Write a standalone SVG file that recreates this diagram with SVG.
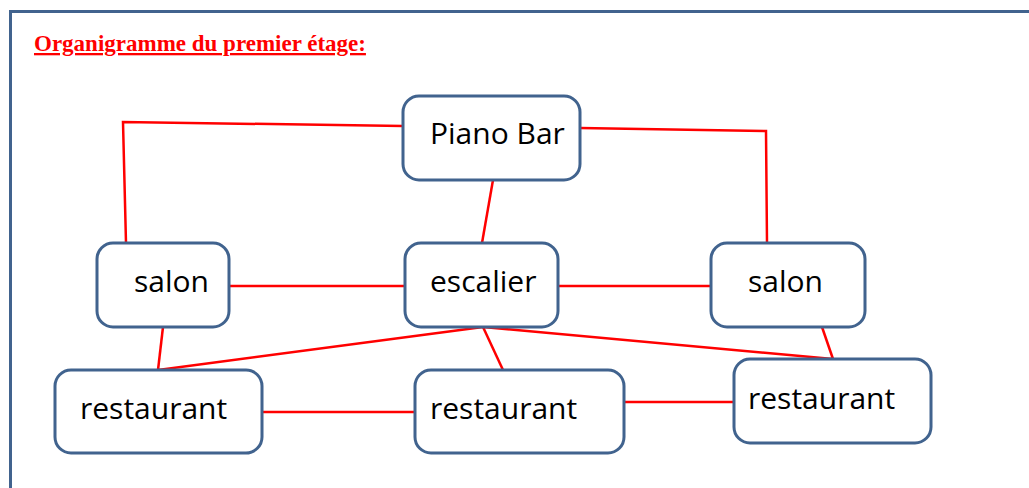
<svg xmlns="http://www.w3.org/2000/svg" width="1029" height="488" viewBox="0 0 1029 488">
<style>
.node rect{fill:#fff;stroke:#41638e;stroke-width:3}
.node text{font-family:"Open Sans","Liberation Sans",sans-serif;font-size:30px;fill:#000}
.conn{stroke:#ff0000;stroke-width:2.5;fill:none}
.title{font-family:"Liberation Serif",serif;font-weight:bold;font-size:23px;fill:#ff0000;text-decoration:underline}
</style>
<rect x="0" y="0" width="1029" height="488" fill="#fff"/>
<path d="M10.5 495 V11.5 H1040" fill="none" stroke="#41638e" stroke-width="3"/>
<text class="title" x="34" y="51">Organigramme du premier étage:</text>
<g id="connectors">
<polyline class="conn" points="403,126 123,122 126,243"/>
<polyline class="conn" points="580,128 766,131 767,243"/>
<line class="conn" x1="493" y1="180" x2="482" y2="243"/>
<line class="conn" x1="229" y1="286" x2="405" y2="286"/>
<line class="conn" x1="558" y1="286" x2="711" y2="286"/>
<line class="conn" x1="163" y1="327" x2="158" y2="370"/>
<line class="conn" x1="483" y1="327" x2="158" y2="370"/>
<line class="conn" x1="483" y1="327" x2="503" y2="370"/>
<line class="conn" x1="483" y1="327" x2="833" y2="359"/>
<line class="conn" x1="822" y1="327" x2="833" y2="359"/>
<line class="conn" x1="262" y1="412" x2="415" y2="412"/>
<line class="conn" x1="624" y1="402" x2="734" y2="402"/>
</g>
<g id="piano-bar" class="node"><rect x="403" y="96" width="177" height="84" rx="16"/><text x="430" y="144">Piano Bar</text></g>
<g id="salon-left" class="node"><rect x="97" y="243" width="132" height="84" rx="16"/><text x="134" y="292">salon</text></g>
<g id="escalier" class="node"><rect x="405" y="243" width="153" height="84" rx="16"/><text x="430" y="292">escalier</text></g>
<g id="salon-right" class="node"><rect x="711" y="243" width="154" height="84" rx="16"/><text x="748" y="292">salon</text></g>
<g id="restaurant-left" class="node"><rect x="55" y="370" width="207" height="83" rx="16"/><text x="80" y="419">restaurant</text></g>
<g id="restaurant-middle" class="node"><rect x="415" y="370" width="209" height="83" rx="16"/><text x="430" y="419">restaurant</text></g>
<g id="restaurant-right" class="node"><rect x="734" y="359" width="197" height="84" rx="16"/><text x="748" y="409">restaurant</text></g>
</svg>
